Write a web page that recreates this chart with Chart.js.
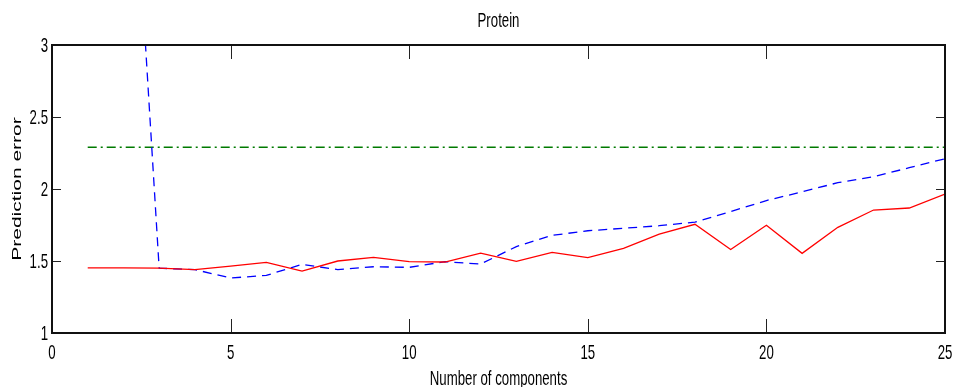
<!DOCTYPE html>
<html>
<head>
    <title>Protein</title>
    <script src="https://cdn.jsdelivr.net/npm/chart.js"></script>
    <style>
        html, body { margin: 0; padding: 0; background: #fff; }
        #wrap { width: 953px; height: 387px; }
    </style>
</head>
<body>
    <div id="wrap"><canvas id="proteinChart"></canvas></div>

    <script>
        const components = [1, 2, 3, 4, 5, 6, 7, 8, 9, 10, 11, 12, 13, 14, 15, 16, 17, 18, 19, 20, 21, 22, 23, 24, 25];
        const redError = [1.452, 1.452, 1.45, 1.44, 1.465, 1.49, 1.43, 1.50, 1.525, 1.495, 1.493, 1.555, 1.498,
                          1.56, 1.523, 1.588, 1.686, 1.755, 1.58, 1.748, 1.553, 1.734, 1.854, 1.868, 1.965];
        const blueError = [8.0, 5.5, 1.45, 1.44, 1.382, 1.40, 1.477, 1.44, 1.46, 1.456, 1.495, 1.479, 1.60,
                           1.678, 1.71, 1.727, 1.745, 1.77, 1.843, 1.92, 1.98, 2.044, 2.085, 2.148, 2.21];
        const greenError = [2.29, 2.29, 2.29, 2.29, 2.29, 2.29, 2.29, 2.29, 2.29, 2.29, 2.29, 2.29, 2.29,
                            2.29, 2.29, 2.29, 2.29, 2.29, 2.29, 2.29, 2.29, 2.29, 2.29, 2.29, 2.29];
        const xTicks = [0, 5, 10, 15, 20, 25];
        const xTickLabels = ['0', '5', '10', '15', '20', '25'];
        const yTicks = [1, 1.5, 2, 2.5, 3];
        const yTickLabels = ['1', '1.5', '2', '2.5', '3'];

        const chartTitle = 'Protein';
        const xTitle = 'Number of components';
        const yTitle = 'Prediction error';

        const toPoints = arr => arr.map((v, i) => ({ x: components[i], y: v }));

        // the original figure is squashed sideways, so text is drawn condensed
        const squash = 0.63;
        function squashedText(ctx, text, x, y, align, baseline, rotated) {
            ctx.save();
            ctx.translate(x, y);
            ctx.scale(squash, 1);
            if (rotated) ctx.rotate(-Math.PI / 2);
            ctx.textAlign = align;
            ctx.textBaseline = baseline;
            ctx.fillText(text, 0, 0);
            ctx.restore();
        }

        // matlab style box, inward ticks on all four sides, and the labels
        const matlabAxes = {
            id: 'matlabAxes',
            afterDraw(chart) {
                const { ctx, chartArea: a, scales: { x, y } } = chart;
                ctx.save();
                ctx.strokeStyle = '#222';
                ctx.lineWidth = 1;
                ctx.beginPath();
                xTicks.forEach(t => {
                    const px = Math.round(x.getPixelForValue(t)) + 0.5;
                    ctx.moveTo(px, a.bottom); ctx.lineTo(px, a.bottom - 14);
                    ctx.moveTo(px, a.top); ctx.lineTo(px, a.top + 14);
                });
                yTicks.forEach(t => {
                    const py = Math.round(y.getPixelForValue(t)) + 0.5;
                    ctx.moveTo(a.left, py); ctx.lineTo(a.left + 9, py);
                    ctx.moveTo(a.right, py); ctx.lineTo(a.right - 9, py);
                });
                ctx.stroke();
                ctx.strokeStyle = '#111';
                ctx.lineWidth = 2;
                ctx.strokeRect(a.left, a.top, a.right - a.left, a.bottom - a.top);

                ctx.fillStyle = '#000';
                ctx.font = "21px 'Liberation Sans', Arial, sans-serif";
                xTicks.forEach((t, i) => {
                    squashedText(ctx, xTickLabels[i], x.getPixelForValue(t), a.bottom + 10, 'center', 'top');
                });
                yTicks.forEach((t, i) => {
                    squashedText(ctx, yTickLabels[i], a.left - 4, y.getPixelForValue(t) + 1, 'right', 'middle');
                });
                squashedText(ctx, chartTitle, (a.left + a.right) / 2, 21, 'center', 'middle');
                squashedText(ctx, xTitle, (a.left + a.right) / 2, 379, 'center', 'middle');
                squashedText(ctx, yTitle, 17, (a.top + a.bottom) / 2, 'center', 'middle', true);
                ctx.restore();
            }
        };

        new Chart(document.getElementById('proteinChart'), {
            type: 'line',
            data: {
                datasets: [{
                    label: 'red',
                    data: toPoints(redError),
                    borderColor: '#ff0000',
                    borderWidth: 1.3,
                    pointRadius: 0,
                    tension: 0
                }, {
                    label: 'blue',
                    data: toPoints(blueError),
                    borderColor: '#0000ff',
                    borderWidth: 1.3,
                    borderDash: [9, 6],
                    pointRadius: 0,
                    tension: 0
                }, {
                    label: 'green',
                    data: toPoints(greenError),
                    borderColor: '#007a00',
                    borderWidth: 1.3,
                    borderDash: [9, 4, 2, 4],
                    pointRadius: 0,
                    tension: 0
                }]
            },
            options: {
                responsive: true,
                maintainAspectRatio: false,
                animation: false,
                layout: { padding: { left: 0, right: 8, top: 45, bottom: 0 } },
                plugins: {
                    legend: { display: false },
                    tooltip: { enabled: false },
                    title: { display: false }
                },
                scales: {
                    x: {
                        type: 'linear',
                        min: 0,
                        max: 25,
                        afterFit: s => { s.height = 54; s.paddingLeft = 0; s.paddingRight = 0; },
                        ticks: { display: false },
                        grid: { display: false },
                        border: { display: false }
                    },
                    y: {
                        min: 1,
                        max: 3,
                        afterFit: s => { s.width = 52; s.paddingTop = 0; s.paddingBottom = 0; },
                        ticks: { display: false },
                        grid: { display: false },
                        border: { display: false }
                    }
                }
            },
            plugins: [matlabAxes]
        });
    </script>
</body>
</html>
